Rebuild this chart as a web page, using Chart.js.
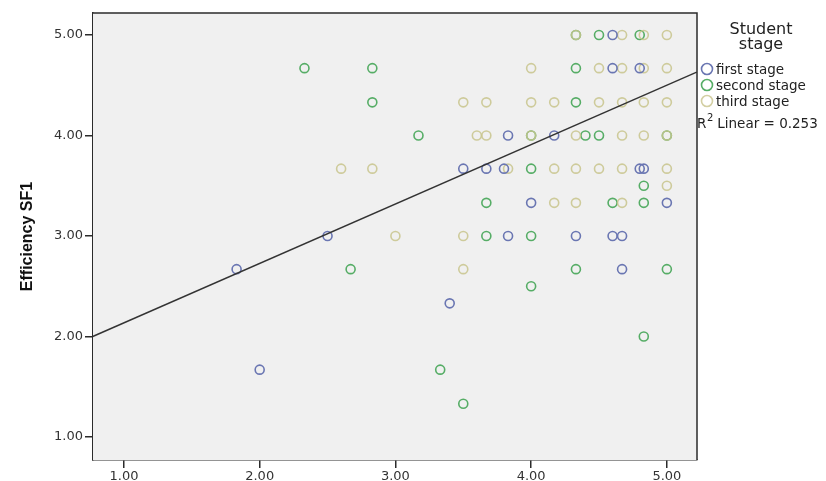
<!DOCTYPE html>
<html lang="en">
<head>
    <meta charset="UTF-8">
    <title>Efficiency SF1 by Student stage</title>
    <script src="https://cdn.jsdelivr.net/npm/chart.js@4.4.1/dist/chart.umd.min.js"></script>
    <style>
        body { margin: 0; background: #ffffff; }
    </style>
</head>
<body>
    <canvas id="mychart" width="826" height="481"></canvas>
    <script>
        // tick labels
        var xTicks = [1, 2, 3, 4, 5];
        var yTicks = [1, 2, 3, 4, 5];

        // first stage (blue)
        var firstX = [4.6, 4.6, 4.8, 3.83, 4.17, 3.5, 3.67, 3.8, 4.8, 4.83, 4.0, 5.0, 2.5, 3.83, 4.33, 4.6, 4.67, 1.83, 4.67, 3.4, 2.0];
        var firstY = [5.0, 4.67, 4.67, 4.0, 4.0, 3.67, 3.67, 3.67, 3.67, 3.67, 3.33, 3.33, 3.0, 3.0, 3.0, 3.0, 3.0, 2.67, 2.67, 2.33, 1.67];

        // second stage (green)
        var secondX = [4.33, 4.5, 4.8, 2.33, 2.83, 4.33, 2.83, 4.33, 3.17, 4.0, 4.4, 4.5, 5.0, 4.0, 4.83, 3.67, 4.6, 4.83, 3.67, 4.0, 2.67, 4.33, 5.0, 4.0, 4.83, 3.33, 3.5];
        var secondY = [5.0, 5.0, 5.0, 4.67, 4.67, 4.67, 4.33, 4.33, 4.0, 4.0, 4.0, 4.0, 4.0, 3.67, 3.5, 3.33, 3.33, 3.33, 3.0, 3.0, 2.67, 2.67, 2.67, 2.5, 2.0, 1.67, 1.33];

        // third stage (tan)
        var thirdX = [4.33, 4.67, 4.83, 5.0, 4.0, 4.5, 4.67, 4.83, 5.0, 3.5, 3.67, 4.0, 4.17, 4.5, 4.67, 4.83, 5.0, 3.6, 3.67, 4.0, 4.33, 4.67, 4.83, 5.0, 2.6, 2.83, 3.83, 4.17, 4.33, 4.5, 4.67, 5.0, 5.0, 4.17, 4.33, 4.67, 3.0, 3.5, 3.5];
        var thirdY = [5.0, 5.0, 5.0, 5.0, 4.67, 4.67, 4.67, 4.67, 4.67, 4.33, 4.33, 4.33, 4.33, 4.33, 4.33, 4.33, 4.33, 4.0, 4.0, 4.0, 4.0, 4.0, 4.0, 4.0, 3.67, 3.67, 3.67, 3.67, 3.67, 3.67, 3.67, 3.67, 3.5, 3.33, 3.33, 3.33, 3.0, 3.0, 2.67];

        // fit line end points (R2 linear = 0.253)
        var fitX = [0.77, 5.22];
        var fitY = [2.0, 4.63];

        var seriesNames = ['first stage', 'second stage', 'third stage'];
        var seriesColors = ['#6a76b2', '#56ad66', 'rgba(200,196,140,0.85)'];
        var legendColors = ['#6a76b2', '#56ad66', '#d3cfa3'];

        function toPoints(xs, ys) {
            return xs.map(function (x, i) { return { x: x, y: ys[i] }; });
        }

        var axisColor = '#2b2b2b';

        // plot background, top/right frame, legend
        var spssPlugin = {
            id: 'spssLook',
            beforeDatasetsDraw: function (chart) {
                var a = chart.chartArea, c = chart.ctx;
                c.save();
                c.fillStyle = '#f0f0f0';
                c.fillRect(a.left, a.top, a.right - a.left, a.bottom - a.top);
                c.restore();
            },
            afterDraw: function (chart) {
                var a = chart.chartArea, c = chart.ctx;
                c.save();
                c.strokeStyle = axisColor;
                c.lineWidth = 1.5;
                c.beginPath();
                c.moveTo(a.left, a.top);
                c.lineTo(a.right, a.top);
                c.lineTo(a.right, a.bottom);
                c.stroke();

                c.fillStyle = '#222';
                c.textAlign = 'center';
                c.textBaseline = 'middle';
                c.font = '16px "DejaVu Sans"';
                c.fillText('Student', 761, 30);
                c.fillText('stage', 761, 45);

                c.font = '13.5px "DejaVu Sans"';
                c.textAlign = 'left';
                seriesNames.forEach(function (name, i) {
                    var y = 69 + i * 16;
                    c.beginPath();
                    c.strokeStyle = legendColors[i];
                    c.lineWidth = 1.6;
                    c.arc(707, y, 5.5, 0, Math.PI * 2);
                    c.stroke();
                    c.fillText(name, 716, y + 1);
                });

                c.font = '13.5px "DejaVu Sans"';
                c.fillText('R', 697, 124);
                c.font = '10px "DejaVu Sans"';
                c.fillText('2', 707, 118);
                c.font = '13.5px "DejaVu Sans"';
                c.fillText(' Linear = 0.253', 713, 124);
                c.restore();
            }
        };

        const ctx = document.getElementById('mychart');

        var mychart = new Chart(ctx, {
            type: 'scatter',
            data: {
                datasets: [
                    {
                        type: 'line',
                        label: 'fit',
                        data: toPoints(fitX, fitY),
                        borderColor: '#333333',
                        borderWidth: 1.4,
                        pointRadius: 0,
                        fill: false,
                        order: 0
                    },
                    {
                        label: seriesNames[0],
                        data: toPoints(firstX, firstY),
                        borderColor: seriesColors[0],
                        backgroundColor: 'rgba(0,0,0,0)',
                        pointRadius: 4.5,
                        pointBorderWidth: 1.6,
                        order: 1
                    },
                    {
                        label: seriesNames[1],
                        data: toPoints(secondX, secondY),
                        borderColor: seriesColors[1],
                        backgroundColor: 'rgba(0,0,0,0)',
                        pointRadius: 4.5,
                        pointBorderWidth: 1.6,
                        order: 3
                    },
                    {
                        label: seriesNames[2],
                        data: toPoints(thirdX, thirdY),
                        borderColor: seriesColors[2],
                        backgroundColor: 'rgba(0,0,0,0)',
                        pointRadius: 4.5,
                        pointBorderWidth: 1.6,
                        order: 2
                    }
                ]
            },
            options: {
                responsive: false,
                animation: false,
                layout: { padding: { left: 0, right: 129, top: 13, bottom: 0 } },
                plugins: {
                    legend: { display: false },
                    tooltip: { enabled: false }
                },
                scales: {
                    x: {
                        type: 'linear',
                        min: 0.772,
                        max: 5.222,
                        afterBuildTicks: function (scale) {
                            scale.ticks = xTicks.map(function (v) { return { value: v }; });
                        },
                        afterFit: function (scale) { scale.height = 21; },
                        grid: {
                            drawOnChartArea: false,
                            drawTicks: true,
                            tickLength: 8,
                            color: axisColor,
                            lineWidth: 1.5
                        },
                        border: { display: true, color: axisColor, width: 1.5 },
                        ticks: {
                            padding: 1,
                            color: '#333',
                            font: { family: 'DejaVu Sans', size: 13 },
                            maxRotation: 0,
                            callback: function (v) { return Number(v).toFixed(2); }
                        }
                    },
                    y: {
                        type: 'linear',
                        min: 0.771,
                        max: 5.219,
                        afterBuildTicks: function (scale) {
                            scale.ticks = yTicks.map(function (v) { return { value: v }; });
                        },
                        afterFit: function (scale) { scale.width = 93; },
                        grid: {
                            drawOnChartArea: false,
                            drawTicks: true,
                            tickLength: 8,
                            color: axisColor,
                            lineWidth: 1.5
                        },
                        border: { display: true, color: axisColor, width: 1.5 },
                        title: {
                            display: true,
                            text: 'Efficiency SF1',
                            color: '#111',
                            font: { family: 'Liberation Sans', size: 16, weight: 'bold' },
                            padding: { top: 18, bottom: 0 }
                        },
                        ticks: {
                            padding: 2,
                            color: '#333',
                            font: { family: 'DejaVu Sans', size: 13 },
                            callback: function (v) { return Number(v).toFixed(2); }
                        }
                    }
                }
            },
            plugins: [spssPlugin]
        });
    </script>
</body>
</html>
